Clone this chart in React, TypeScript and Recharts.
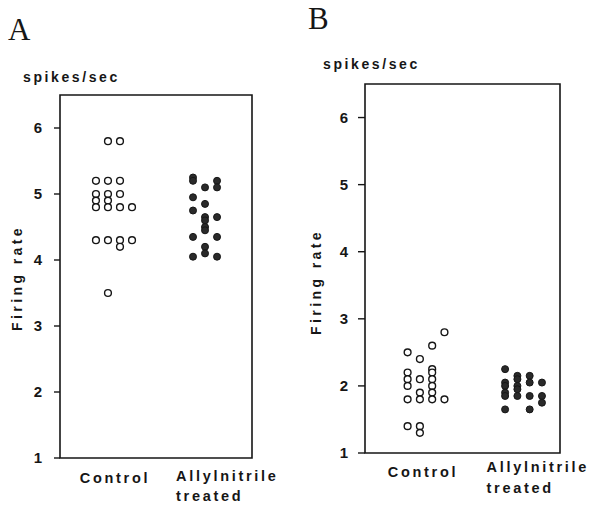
import React from "react";
import { ScatterChart, Scatter, XAxis, YAxis, ReferenceArea } from "recharts";

// ---- data ----
const categories = ["Control", "Allylnitrile", "treated"];
const yTicks = [1, 2, 3, 4, 5, 6];
const yDomain: [number, number] = [1, 6.5];

// Each inner array is one column of dots (left to right) within a group
const controlA: number[][] = [
  [5.2, 5.0, 4.9, 4.8, 4.3],
  [5.8, 5.2, 5.0, 4.9, 4.8, 4.3, 3.5],
  [5.8, 5.2, 5.0, 4.8, 4.3, 4.2],
  [4.8, 4.3],
];
const treatedA: number[][] = [
  [5.25, 5.2, 4.95, 4.75, 4.35, 4.05],
  [5.1, 4.85, 4.65, 4.6, 4.5, 4.45, 4.2, 4.1],
  [5.2, 5.1, 4.65, 4.35, 4.05],
];
const controlB: number[][] = [
  [2.5, 2.2, 2.1, 2.0, 1.8, 1.4],
  [2.4, 2.1, 1.9, 1.8, 1.4, 1.3],
  [2.6, 2.25, 2.2, 2.1, 2.0, 1.9, 1.8],
  [2.8, 1.8],
];
const treatedB: number[][] = [
  [2.25, 2.05, 2.0, 1.9, 1.85, 1.65],
  [2.15, 2.1, 2.0, 1.95, 1.85],
  [2.15, 2.05, 1.85, 1.65],
  [2.05, 1.85, 1.75],
];

const toPoints = (cols: number[][], group: number, step: number) =>
  cols.flatMap((col, i) =>
    col.map((v) => ({ x: group + (i - (cols.length - 1) / 2) * step, y: v }))
  );

const SANS = "'Liberation Sans', Arial, Helvetica, sans-serif";
const SERIF = "'Liberation Serif', 'Times New Roman', serif";
const INK = "#161616";

const OpenDot = (p: any) => (
  <circle cx={p.cx} cy={p.cy} r={3.4} fill="#fff" stroke={INK} strokeWidth={1.4} />
);
const FilledDot = (p: any) => (
  <circle cx={p.cx} cy={p.cy} r={3.5} fill="#2a2a2a" stroke={INK} strokeWidth={1} />
);

type PanelProps = {
  letter: string;
  letterY: number;
  width: number;
  marginTop: number;
  plotH: number;
  marginRight: number;
  yAxisWidth: number;
  xDomain: [number, number];
  step: number;
  control: number[][];
  treated: number[][];
  tickSize: number;
  tickMargin: number;
  unitY: number;
  firingY: number;
  firingX: number;
  ctrlDx: number;
  ctrlDy: number;
  trtDx: number;
  trtDy1: number;
  trtDy2: number;
};

const HEIGHT = 506;

function Panel(props: PanelProps) {
  const ctrl = toPoints(props.control, 1, props.step);
  const trt = toPoints(props.treated, 2, props.step);
  const xAxisHeight = HEIGHT - props.marginTop - props.plotH;
  const XTick = (t: any) => {
    const { x, y, index } = t;
    const style = {
      fontFamily: SANS,
      fontWeight: 700,
      fontSize: 14.5,
      letterSpacing: 2.7,
      fill: INK,
    } as React.CSSProperties;
    if (index === 0) {
      return (
        <text x={x + props.ctrlDx} y={y + props.ctrlDy} textAnchor="middle" style={style}>
          {categories[0]}
        </text>
      );
    }
    return (
      <g>
        <text x={x + props.trtDx} y={y + props.trtDy1} textAnchor="start" style={style}>
          {categories[1]}
        </text>
        <text x={x + props.trtDx} y={y + props.trtDy2} textAnchor="start" style={style}>
          {categories[2]}
        </text>
      </g>
    );
  };
  return (
    <ScatterChart
      width={props.width}
      height={HEIGHT}
      margin={{ top: props.marginTop, right: props.marginRight, bottom: 0, left: 0 }}
    >
      <text x={8} y={props.letterY} style={{ fontFamily: SERIF, fontSize: 31, fill: INK }}>
        {props.letter}
      </text>
      <text
        x={23}
        y={props.unitY}
        style={{ fontFamily: SANS, fontWeight: 700, fontSize: 14, letterSpacing: 2.6, fill: INK }}
      >
        spikes/sec
      </text>
      <text
        x={props.firingX}
        y={props.firingY}
        textAnchor="middle"
        transform={`rotate(-90 ${props.firingX} ${props.firingY})`}
        style={{ fontFamily: SANS, fontWeight: 700, fontSize: 14, letterSpacing: 3.4, fill: INK }}
      >
        Firing rate
      </text>
      <XAxis
        type="number"
        dataKey="x"
        domain={props.xDomain}
        ticks={[1, 2]}
        interval={0}
        allowDataOverflow
        axisLine={false}
        tickLine={false}
        tickSize={0}
        tickMargin={0}
        height={xAxisHeight}
        tick={XTick}
      />
      <YAxis
        type="number"
        dataKey="y"
        domain={yDomain}
        ticks={yTicks}
        interval={0}
        allowDataOverflow
        axisLine={false}
        tickLine={{ stroke: INK, strokeWidth: 1.4 }}
        tickSize={props.tickSize}
        tickMargin={props.tickMargin}
        width={props.yAxisWidth}
        tick={{ fontFamily: SANS, fontWeight: 700, fontSize: 15, fill: INK }}
      />
      <ReferenceArea
        x1={props.xDomain[0]}
        x2={props.xDomain[1]}
        y1={yDomain[0]}
        y2={yDomain[1]}
        fill="none"
        stroke={INK}
        strokeWidth={1.6}
        ifOverflow="visible"
      />
      <Scatter data={ctrl} shape={OpenDot} isAnimationActive={false} />
      <Scatter data={trt} shape={FilledDot} isAnimationActive={false} />
    </ScatterChart>
  );
}

export default function App() {
  return (
    <div style={{ position: "absolute", left: 0, top: 0, width: 595, height: 506, background: "#fff" }}>
      <div style={{ position: "absolute", left: 0, top: 0 }}>
        <Panel
          letter="A"
          letterY={40}
          width={300}
          marginTop={95}
          plotH={363}
          marginRight={48}
          yAxisWidth={60}
          xDomain={[0.407, 2.516]}
          step={0.132}
          control={controlA}
          treated={treatedA}
          tickSize={6}
          tickMargin={12}
          unitY={82}
          firingX={22}
          firingY={278}
          ctrlDx={1}
          ctrlDy={25}
          trtDx={-29}
          trtDy1={23}
          trtDy2={43}
        />
      </div>
      <div style={{ position: "absolute", left: 300, top: 0 }}>
        <Panel
          letter="B"
          letterY={29}
          width={295}
          marginTop={84}
          plotH={369}
          marginRight={35}
          yAxisWidth={65}
          xDomain={[0.374, 2.374]}
          step={0.126}
          control={controlB}
          treated={treatedB}
          tickSize={7}
          tickMargin={10}
          unitY={69}
          firingX={21}
          firingY={282}
          ctrlDx={-3}
          ctrlDy={24}
          trtDx={-37}
          trtDy1={19}
          trtDy2={40}
        />
      </div>
    </div>
  );
}
